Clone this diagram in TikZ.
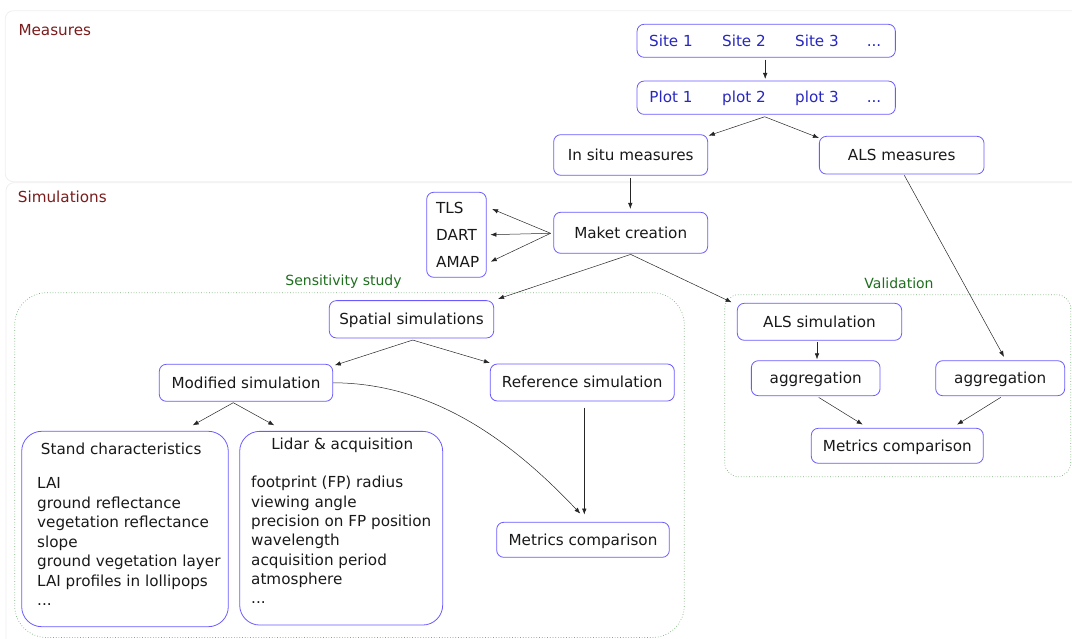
\documentclass[tikz,border=0pt]{standalone}
\usepackage{fontspec}
\setmainfont{DejaVu Sans}
\usetikzlibrary{calc,arrows.meta}
\definecolor{boxc}{RGB}{106,90,255}
\definecolor{sitec}{RGB}{40,40,192}
\definecolor{secc}{RGB}{122,28,28}
\definecolor{grnc}{RGB}{30,110,30}
\definecolor{frmc}{RGB}{120,175,120}
\definecolor{panc}{RGB}{238,238,238}
\definecolor{txtc}{RGB}{25,25,25}
\tikzset{
  bx/.style={draw=boxc, line width=0.8pt, rounded corners=7pt, fill=white, inner sep=0pt,
    font=\fontsize{15.2}{18}\selectfont, text=txtc, text height=11.5pt, text depth=1pt},
  bigbx/.style={draw=boxc, line width=0.8pt, rounded corners=20pt, inner sep=0pt},
  sitetxt/.style={inner sep=0pt, font=\fontsize{15.2}{18}\selectfont, text=sitec, text height=11.5pt, text depth=1pt},
  itm/.style={inner sep=0pt, anchor=base west, font=\fontsize{15.2}{18}\selectfont, text=txtc},
  sec/.style={inner sep=0pt, anchor=west, font=\fontsize{15.2}{18}\selectfont, text=secc},
  grp/.style={inner sep=0pt, font=\fontsize{14}{17}\selectfont, text=grnc},
  arr/.style={-{Latex[length=6pt,width=4.5pt]}, line width=0.5pt, draw=black!85},
  panel/.style={draw=panc, line width=0.8pt, rounded corners=8pt},
  frame/.style={draw=frmc, line width=0.7pt, dotted}
}
\begin{document}
\begin{tikzpicture}[x=1pt,y=-1pt]
\useasboundingbox (0,0) rectangle (1072,639);
\clip (0,0) rectangle (1072,639);
% panels
\draw[panel] (5.3,10.7) rectangle (1085,181.7);
\draw[panel] (6,182.7) rectangle (1085,660);
\node[sec] (lmeas) at (18.3,29.7) {Measures};
\node[sec] (lsim) at (17.7,197) {Simulations};
% group frames
\draw[frame, rounded corners=32pt] (14.7,292.7) rectangle (684.3,637.5);
\draw[frame, rounded corners=14pt] (724.7,294.7) rectangle (1070.7,476.7);
\node[grp] (lsens) at (343.5,281.7) {Sensitivity study};
\node[grp] (lval) at (899,283.7) {Validation};
% measures
\node[bx, minimum width=258.3pt, minimum height=33pt] (site) at (766.2,40.8) {};
\node[sitetxt] (s1) at (671,40.8) {Site 1};
\node[sitetxt] (s2) at (744,40.8) {Site 2};
\node[sitetxt] (s3) at (817,40.8) {Site 3};
\node[sitetxt] (s4) at (874,40.8) {...};
\node[bx, minimum width=258.3pt, minimum height=33.3pt] (plot) at (766.2,97.7) {};
\node[sitetxt] (p1) at (671,97.7) {Plot 1};
\node[sitetxt] (p2) at (744,97.7) {plot 2};
\node[sitetxt] (p3) at (817,97.7) {plot 3};
\node[sitetxt] (p4) at (874,97.7) {...};
\node[bx, minimum width=154pt, minimum height=40.6pt] (insitu) at (630.7,155) {In situ measures};
\node[bx, minimum width=164.7pt, minimum height=37.7pt] (alsm) at (901.7,155.2) {ALS measures};
% simulations
\node[bx, minimum width=154pt, minimum height=41pt] (maket) at (630.7,232.8) {Maket creation};
\node[bx, minimum width=59.6pt, minimum height=85pt] (tls) at (456.5,234.8) {};
\node[itm] (t1) at (436,213.9) {TLS};
\node[itm] (t2) at (436,240.6) {DART};
\node[itm] (t3) at (436,267.3) {AMAP};
\node[bx, minimum width=164.4pt, minimum height=37.3pt] (spatial) at (411.5,319.3) {Spatial simulations};
\node[bx, minimum width=173.4pt, minimum height=37pt] (modified) at (246,382.8) {Modified simulation};
\node[bx, minimum width=184pt, minimum height=37pt] (reference) at (582.3,382.5) {Reference simulation};
\node[bx, minimum width=172.6pt, minimum height=35pt] (metricsL) at (583,539.8) {Metrics comparison};
% stand characteristics
\node[bigbx, minimum width=206.6pt, minimum height=195.4pt] (stand) at (125,529) {};
\node[itm, anchor=base] (standt) at (121.2,454.6) {Stand characteristics};
\node[itm] (st1) at (37,488.9) {LAI};
\node[itm] (st2) at (37,508.35) {ground reflectance};
\node[itm] (st3) at (37,527.8) {vegetation reflectance};
\node[itm] (st4) at (37,547.25) {slope};
\node[itm] (st5) at (37,566.7) {ground vegetation layer};
\node[itm] (st6) at (37,586.15) {LAI profiles in lollipops};
\node[itm] (st7) at (37,605.6) {...};
% lidar
\node[bigbx, minimum width=203pt, minimum height=193.7pt] (lidar) at (341.2,528.2) {};
\node[itm, anchor=base] (lidart) at (342.2,449.9) {Lidar \& acquisition};
\node[itm] (li1) at (251,487.8) {footprint (FP) radius};
\node[itm] (li2) at (251,507.1) {viewing angle};
\node[itm] (li3) at (251,526.4) {precision on FP position};
\node[itm] (li4) at (251,545.7) {wavelength};
\node[itm] (li5) at (251,565.0) {acquisition period};
\node[itm] (li6) at (251,584.3) {atmosphere};
\node[itm] (li7) at (251,603.6) {...};
% validation
\node[bx, minimum width=164.4pt, minimum height=37pt] (alssim) at (819.5,321.8) {ALS simulation};
\node[bx, minimum width=128.7pt, minimum height=35pt] (agg1) at (815.7,378.2) {aggregation};
\node[bx, minimum width=129pt, minimum height=35pt] (agg2) at (1000.2,378.2) {aggregation};
\node[bx, minimum width=172pt, minimum height=35pt] (metricsR) at (897.3,445.8) {Metrics comparison};
% connectors
\draw[arr] ($(site.south)+(-1,2)$) -- ($(plot.north)+(-1,-1.7)$);
\draw[arr] ($(plot.south)+(-1.5,2)$) -- ($(insitu.north east)+(0.6,1.3)$);
\draw[arr] ($(plot.south)+(-1.5,2)$) -- ($(alsm.north west)+(0,2)$);
\draw[arr] ($(insitu.south)+(-0.4,2.4)$) -- ($(maket.north)+(-0.4,-3)$);
\draw[arr] ($(maket.west)+(-2.7,0.5)$) -- ($(tls.east)+(5.4,-25.8)$);
\draw[arr] ($(maket.west)+(-2.7,0.5)$) -- ($(tls.east)+(3.7,-0.1)$);
\draw[arr] ($(maket.west)+(-2.7,0.5)$) -- ($(tls.east)+(4,26.9)$);
\draw[arr] ($(maket.south)+(0,0.7)$) -- ($(spatial.north east)+(4,-1.4)$);
\draw[arr] ($(maket.south)+(0,0.7)$) -- ($(alssim.north west)+(-5.3,-0.6)$);
\draw[arr] ($(alsm.south)+(2.6,0.8)$) -- ($(agg2.north)+(3.8,-3.4)$);
\draw[arr] ($(alssim.south)+(-2.5,1.4)$) -- ($(agg1.north)+(1.3,-1)$);
\draw[arr] ($(agg1.south)+(3,1.3)$) -- ($(metricsR.north)+(-34.6,-3.3)$);
\draw[arr] ($(agg2.south)+(0.5,1.3)$) -- ($(metricsR.north)+(59.7,-3.3)$);
\draw[arr] ($(spatial.south)+(1.2,1.7)$) -- ($(modified.north east)+(1.6,1.4)$);
\draw[arr] ($(spatial.south)+(1.2,1.7)$) -- ($(reference.north west)+(0,-0.7)$);
\draw[arr] ($(modified.south)+(-12.7,1)$) -- ($(stand.north)+(67.7,-5.6)$);
\draw[arr] ($(modified.south)+(-12.7,1)$) -- ($(lidar.north)+(-66.9,-5.6)$);
\draw[arr] ($(reference.south)+(2,6.3)$) -- ($(metricsL.north)+(1.3,-7.3)$);
\draw[arr] (modified.east) .. controls (440,383) and (520,450) .. ($(metricsL.north)+(-2.7,-8.3)$);
\end{tikzpicture}
\end{document}
